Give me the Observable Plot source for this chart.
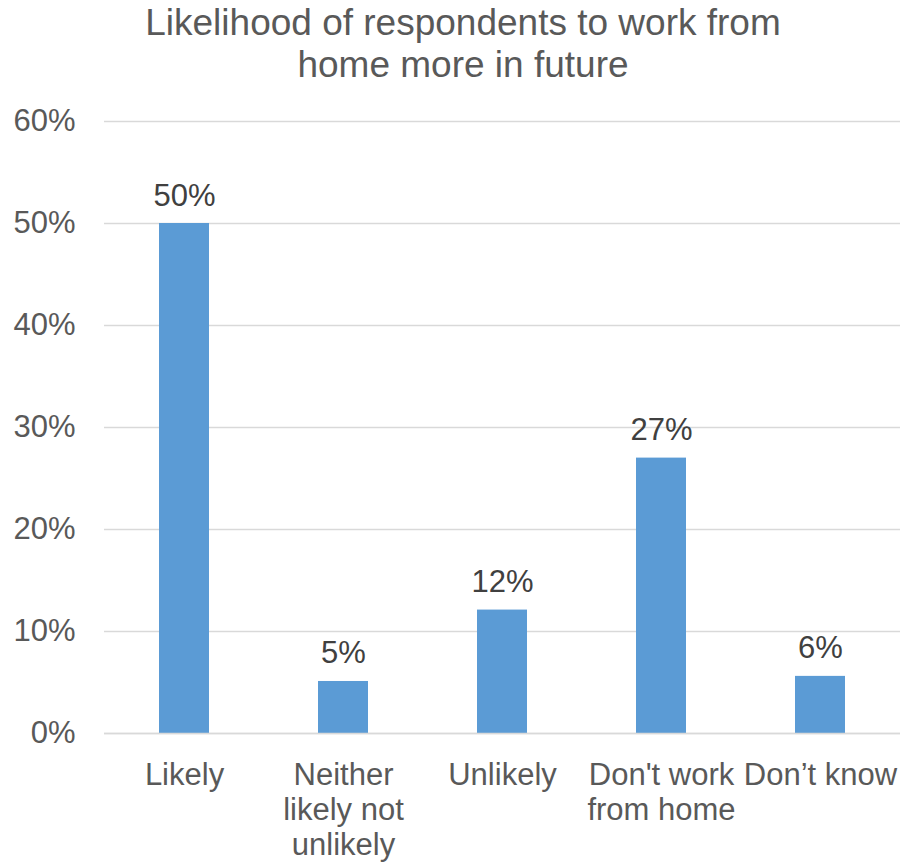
<!DOCTYPE html>
<html>
<head>
<meta charset="utf-8">
<script src="https://cdn.jsdelivr.net/npm/d3@7"></script>
<script src="https://cdn.jsdelivr.net/npm/@observablehq/plot@0.6"></script>
<style>
  html, body { margin: 0; padding: 0; background: #fff; }
  #wrap { position: relative; width: 905px; height: 862px; font-family: "Liberation Sans", Arial, sans-serif; }
  #title { position: absolute; left: 21px; top: 2px; width: 884px; text-align: center; font-size: 37px; line-height: 42px; color: #595959; }
  #chart { position: absolute; left: 0; top: 95px; }
</style>
</head>
<body>
<div id="wrap">
  <div id="title">Likelihood of respondents to work from<br>home more in future</div>
  <div id="chart"></div>
</div>
<script>
const categories = ["Likely", "Neither\nlikely not\nunlikely", "Unlikely", "Don't work\nfrom home", "Don’t know"];
const values = [0.50, 0.051, 0.121, 0.270, 0.056];
const valueLabels = ["50%", "5%", "12%", "27%", "6%"];
const yTicks = [0, 0.1, 0.2, 0.3, 0.4, 0.5, 0.6];

const data = categories.map((c, i) => ({category: c, value: values[i], label: valueLabels[i]}));

const chart = Plot.plot({
  width: 905,
  height: 767,
  marginTop: 26,
  marginBottom: 129,
  marginLeft: 104,
  marginRight: 5,
  style: {fontFamily: "'Liberation Sans', Arial, sans-serif", fontSize: "31px", color: "#595959", background: "#fff"},
  x: {domain: categories, paddingInner: 0.686, paddingOuter: 0.343, label: null},
  y: {domain: [0, 0.6], label: null},
  marks: [
    Plot.gridY(yTicks, {stroke: "#D9D9D9", strokeOpacity: 1, strokeWidth: 1.3}),
    Plot.barY(data, {x: "category", y: "value", fill: "#5B9BD5"}),
    Plot.ruleY([0], {stroke: "#D9D9D9", strokeWidth: 1.5}),
    Plot.text(data, {x: "category", y: "value", text: "label", lineAnchor: "bottom", dy: -18, fill: "#404040", fontSize: 31}),
    Plot.axisY({ticks: yTicks, tickFormat: d3.format(".0%"), tickSize: 0, tickPadding: 29, fontSize: 31, fill: "#595959", label: null}),
    Plot.axisX({tickSize: 0, tickPadding: 26, fontSize: 31, fill: "#595959", lineHeight: 1.14, label: null})
  ]
});
document.getElementById("chart").appendChild(chart);
</script>
</body>
</html>
